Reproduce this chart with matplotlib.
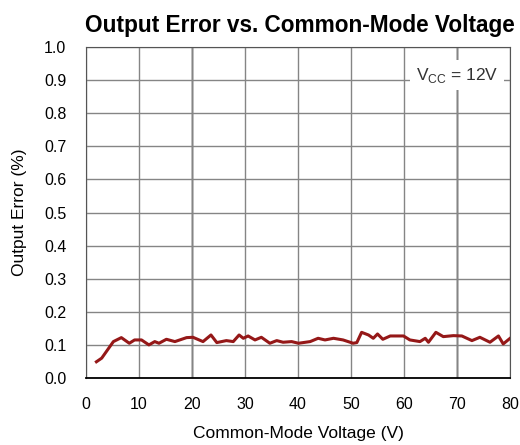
import matplotlib
matplotlib.use('Agg')
import matplotlib.pyplot as plt

plt.rcParams['font.family'] = ['Liberation Sans', 'DejaVu Sans']

# Output error vs common-mode voltage
vcm = [2.0, 3.0, 5.2, 6.7, 8.2, 9.2, 10.5, 11.9, 13.0, 13.8, 15.2, 16.8, 19.0, 20.2,
       22.1, 23.6, 24.7, 26.5, 27.8, 28.9, 29.7, 30.6, 31.9, 33.1, 34.7, 36.0, 37.2,
       38.8, 40.1, 42.3, 43.8, 45.1, 46.7, 48.5, 50.4, 51.1, 52.0, 53.3, 54.2, 55.0,
       56.0, 57.4, 59.9, 61.1, 63.0, 64.0, 64.6, 66.0, 67.4, 69.3, 70.9, 72.8, 74.3,
       76.2, 77.8, 78.7, 80.0]
err = [0.049, 0.060, 0.110, 0.122, 0.105, 0.115, 0.115, 0.100, 0.110, 0.105, 0.117,
       0.110, 0.122, 0.123, 0.110, 0.130, 0.107, 0.113, 0.110, 0.130, 0.120, 0.127,
       0.115, 0.123, 0.105, 0.113, 0.108, 0.110, 0.105, 0.110, 0.120, 0.115, 0.120,
       0.115, 0.105, 0.107, 0.138, 0.130, 0.120, 0.133, 0.117, 0.127, 0.127, 0.115,
       0.110, 0.120, 0.108, 0.138, 0.125, 0.128, 0.127, 0.113, 0.123, 0.108, 0.127,
       0.103, 0.120]

xticks = list(range(0, 81, 10))
yticks = [i / 10 for i in range(11)]

fig = plt.figure(figsize=(5.2, 4.45), dpi=100)
ax = fig.add_axes([0.165, 0.1506, 0.816, 0.7434])

ax.grid(True, color='#858585', linewidth=1.0)
for xv in (20, 70):
    ax.axvline(xv, color='black', linewidth=1.0, zorder=1)

ax.plot(vcm, err, color='#951818', linewidth=2.2, zorder=3)

ax.set_xlim(0, 80)
ax.set_ylim(0, 1.0)
ax.set_xticks(xticks)
ax.set_yticks(yticks)
ax.set_yticklabels(['%.1f' % v for v in yticks])
ax.tick_params(length=0, labelsize=11.5)
ax.tick_params(axis='x', pad=14)
ax.tick_params(axis='y', pad=14)
for s in ax.spines.values():
    s.set_color('#555555')
ax.spines['bottom'].set_color('black')
ax.spines['bottom'].set_linewidth(1.3)

ax.set_xlabel('Common-Mode Voltage (V)', fontsize=12.5, labelpad=10)
ax.set_ylabel('Output Error (%)', fontsize=12.5, labelpad=12)
ax.set_title('Output Error vs. Common-Mode Voltage', fontsize=16.3, fontweight='bold',
             pad=11, x=0.505)

ax.text(70, 0.915, r'V$_{\mathregular{CC}}$ = 12V', fontsize=12.5, color='#333333',
        ha='center', va='center', zorder=4,
        bbox=dict(facecolor='white', edgecolor='none', pad=4))

fig.savefig('out.png', dpi=100)
